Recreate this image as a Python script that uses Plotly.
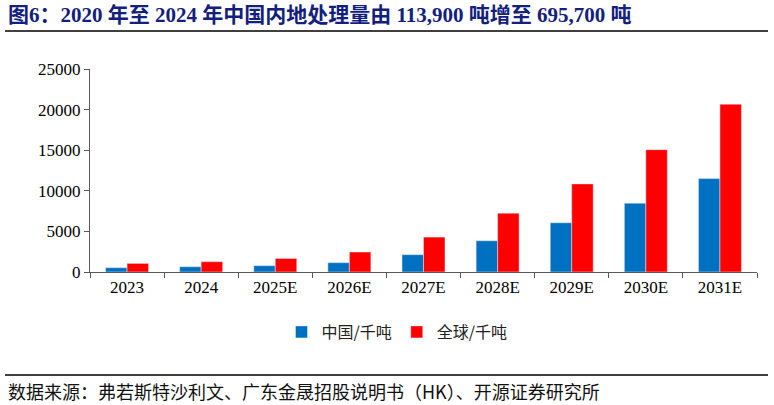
import plotly.graph_objects as go

years = ["2023", "2024", "2025E", "2026E", "2027E", "2028E", "2029E", "2030E", "2031E"]
china = [530, 650, 780, 1150, 2130, 3850, 6060, 8480, 11500]
world = [1060, 1270, 1670, 2460, 4300, 7250, 10850, 15060, 20670]

title_text = "图6：2020 年至 2024 年中国内地处理量由 113,900 吨增至 695,700 吨"
source_text = "数据来源：弗若斯特沙利文、广东金晟招股说明书（HK）、开源证券研究所"

serif = "Liberation Serif, Noto Sans CJK SC, serif"

# plot area in pixels: x 90..757, y 69..272
L, R, T, B = 90, 17, 69, 133
W, H = 774, 405
pw = W - L - R
ph = H - T - B


def px(x):
    return (x - L) / pw


def py(y):
    return (H - B - y) / ph


fig = go.Figure()
fig.add_trace(go.Bar(x=years, y=china, name="中国/千吨", marker_color="#0070C0"))
fig.add_trace(go.Bar(x=years, y=world, name="全球/千吨", marker_color="#FF0000"))

fig.update_layout(
    width=W, height=H,
    margin=dict(l=L, r=R, t=T, b=B),
    paper_bgcolor="white", plot_bgcolor="white",
    barmode="group", bargap=0.42, bargroupgap=0,
    font=dict(family=serif, size=17, color="#000000"),
    showlegend=True,
    legend=dict(orientation="h", x=px(397), xanchor="center", y=py(332), yanchor="middle",
                font=dict(family="Noto Sans CJK SC", size=16, color="#222222"),
                itemwidth=30, tracegroupgap=0),
)
fig.update_xaxes(
    showline=True, linecolor="#595959", linewidth=1,
    ticks="outside", tickson="boundaries", ticklen=5, tickcolor="#595959",
    showgrid=False, tickfont=dict(size=17),
)
fig.update_yaxes(
    range=[0, 25000], dtick=5000, showline=True, linecolor="#595959", linewidth=1,
    ticks="outside", ticklen=5, tickcolor="#595959", showgrid=False, zeroline=False,
    tickformat="d", tickfont=dict(size=17),
)

# title and source
fig.add_annotation(text="<b>" + title_text + "</b>", xref="paper", yref="paper",
                   x=px(6), y=py(15), xanchor="left", yanchor="middle", showarrow=False,
                   font=dict(family=serif, size=21, color="#12207E"))
fig.add_shape(type="line", xref="paper", yref="paper", x0=px(5), x1=px(768), y0=py(31), y1=py(31),
              line=dict(color="#000000", width=1.5))
fig.add_shape(type="line", xref="paper", yref="paper", x0=px(5), x1=px(768), y0=py(375), y1=py(375),
              line=dict(color="#000000", width=1.5))
fig.add_annotation(text=source_text, xref="paper", yref="paper",
                   x=px(6), y=py(391), xanchor="left", yanchor="middle", showarrow=False,
                   font=dict(family="Noto Sans CJK SC", size=18, color="#111111"))

fig.write_html("out.html", config={"displayModeBar": False},
               post_script="document.body.style.margin='0';")
